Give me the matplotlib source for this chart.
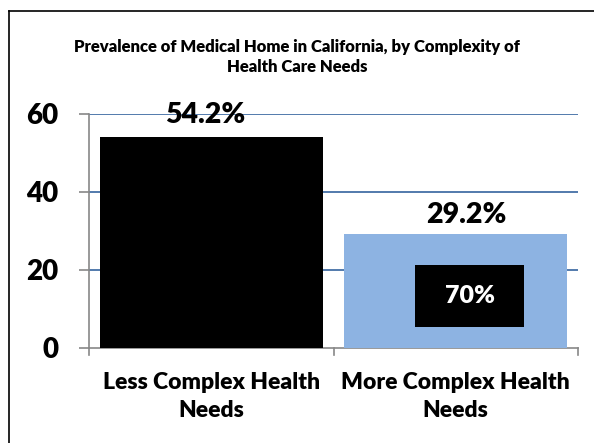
import matplotlib
matplotlib.use("Agg")
import matplotlib.pyplot as plt
from matplotlib.patches import Rectangle
from matplotlib.lines import Line2D

categories = ["Less Complex Health\nNeeds", "More Complex Health\nNeeds"]
values = [54.2, 29.2]
value_labels = ["54.2%", "29.2%"]
bar_colors = ["#000000", "#8DB3E2"]
yticks = [0, 20, 40, 60]
title = "Prevalence of Medical Home in California, by Complexity of\nHealth Care Needs"
callout_text = "70%"

plt.rcParams['font.family'] = ['Lato', 'DejaVu Sans']
W = 'heavy'

fig = plt.figure(figsize=(5.94, 4.43), dpi=100)
ax = fig.add_axes([89/594, 95/443, (578-89)/594, (348-114)/443])

x = list(range(len(categories)))
ax.bar(x, values, width=0.912, color=bar_colors, zorder=3)
ax.set_xlim(-0.5, 1.5)
ax.set_ylim(0, 60)

ax.set_yticks(yticks)
ax.set_yticklabels([str(t) for t in yticks], fontsize=20, fontweight=W)
for t in [20, 40, 60]:
    ax.axhline(t, color="#4470A6", lw=1.3, zorder=1)

ax.set_xticks(x)
ax.set_xticklabels(categories, fontsize=16.5, fontweight=W, linespacing=1.45)
ax.tick_params(axis='x', length=0, pad=17)
ax.tick_params(axis='y', length=7, color="#888888", width=1.2, pad=15)
for b in [-0.5, 0.5, 1.5]:
    ax.plot([b, b], [0, -0.028], transform=ax.get_xaxis_transform(), color="#888888",
            lw=1.2, clip_on=False)

for s in ['top', 'right']:
    ax.spines[s].set_visible(False)
for s in ['left', 'bottom']:
    ax.spines[s].set_color("#888888")
    ax.spines[s].set_linewidth(1.2)

offsets = [-0.025, 0.045]
label_gap = [5.5, 5.0]
for i, (v, lab) in enumerate(zip(values, value_labels)):
    ax.text(i + offsets[i], v + label_gap[i], lab, ha='center', va='center',
            fontsize=20.5, fontweight=W, zorder=5, clip_on=False)

ax.add_patch(Rectangle((0.834, 5.4), 0.446, 15.9, facecolor='black', zorder=4))
ax.text(0.834 + 0.223, 5.4 + 7.95, callout_text, color='white', ha='center', va='center',
        fontsize=18, fontweight=W, zorder=5)

fig.text(0.5, 1 - 57/443, title, ha='center', va='center', fontsize=12,
         fontweight=W, linespacing=1.3)

fig.add_artist(Line2D([9/594, 1], [1 - 11/443, 1 - 11/443], color='black', lw=1.2,
                      transform=fig.transFigure))
fig.add_artist(Line2D([9/594, 9/594], [0, 1 - 11/443], color='black', lw=1.2,
                      transform=fig.transFigure))

fig.savefig("out.png", dpi=100)
